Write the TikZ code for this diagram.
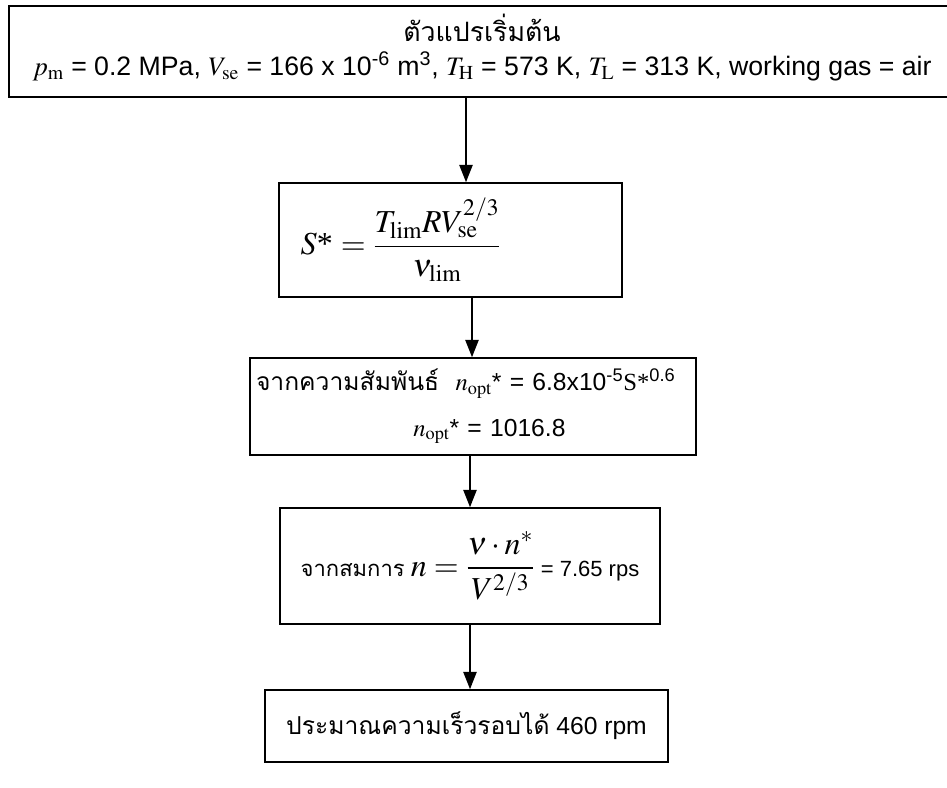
\documentclass[tikz,border=0pt]{standalone}
\usepackage{mathptmx}
\usepackage[no-math]{fontspec}
\setmainfont{Liberation Sans}
\newfontfamily\thaifont[Script=Thai]{Loma}
\newfontfamily\timesfont{Liberation Serif}
\usetikzlibrary{arrows.meta}

\tikzset{every picture/.style={line width=0.75pt}}
\tikzset{
  flowbox/.style={draw, line width=1.2pt, rectangle, inner sep=0pt,
    font=\fontsize{18.5}{24}\selectfont},
  flowarrow/.style={line width=1.1pt, -{Triangle[length=13pt,width=10pt]}}
}
\newcommand{\bigeq}{\fontsize{24}{28}\selectfont}

\begin{document}
\begin{tikzpicture}[x=0.75pt,y=0.75pt,yscale=-1,xscale=1]
\useasboundingbox (0,0) rectangle (947,788);

% Box: starting parameters
\node (start) [flowbox, minimum width=946*0.75pt, minimum height=91*0.75pt, align=center,
  font=\fontsize{20}{25}\selectfont] at (482,51.5)
  {{\thaifont ตัวแปรเริ่มต้น}\\
   $p_{\mathrm{m}}$ = 0.2 MPa, $V_{\mathrm{se}}$ = 166 x 10\textsuperscript{-6} m\textsuperscript{3}, $T_{\mathrm{H}}$ = 573 K, $T_{\mathrm{L}}$ = 313 K, working gas = air\rule[-10pt]{0pt}{0pt}};
% Box: S*
\node (sstar) [flowbox, minimum width=343*0.75pt, minimum height=114*0.75pt, text width=300*0.75pt, align=left] at (450.5,240)
  {\bigeq $S${\timesfont *} $\displaystyle = \frac{T_{\mathrm{lim}}RV_{\mathrm{se}}^{2/3}}{\nu_{\mathrm{lim}}}$};
% Box: optimum n*
\node (nopt) [flowbox, minimum width=446*0.75pt, minimum height=97*0.75pt, text width=434*0.75pt, align=left] at (473,406.5)
  {{\thaifont จากความสัมพันธ์} \ $n_{\mathrm{opt}}$* = 6.8x10\textsuperscript{-5}{\timesfont S*}\textsuperscript{0.6}\\[10pt]
   \hspace*{118pt}$n_{\mathrm{opt}}$* = 1016.8};
% Box: speed n
\node (speed) [flowbox, minimum width=380*0.75pt, minimum height=116*0.75pt, align=center,
  font=\fontsize{16.5}{22}\selectfont] at (470,566)
  {{\thaifont จากสมการ} {\bigeq $n=\displaystyle\frac{\nu\cdot n^{*}}{V^{2/3}}$} = 7.65 rps};
% Box: result
\node (result) [flowbox, minimum width=403*0.75pt, minimum height=72*0.75pt, align=center] at (466.5,726)
  {{\thaifont ประมาณความเร็วรอบได้} 460 rpm};

% Arrows
\coordinate (a1) at (466,97);
\coordinate (a2) at (472,297);
\coordinate (a3) at (470,455);
\coordinate (a4) at (470,624);
\draw [flowarrow] (a1) -- (a1 |- sstar.north);
\draw [flowarrow] (a2) -- (a2 |- nopt.north);
\draw [flowarrow] (a3) -- (a3 |- speed.north);
\draw [flowarrow] (a4) -- (a4 |- result.north);

\end{tikzpicture}
\end{document}
